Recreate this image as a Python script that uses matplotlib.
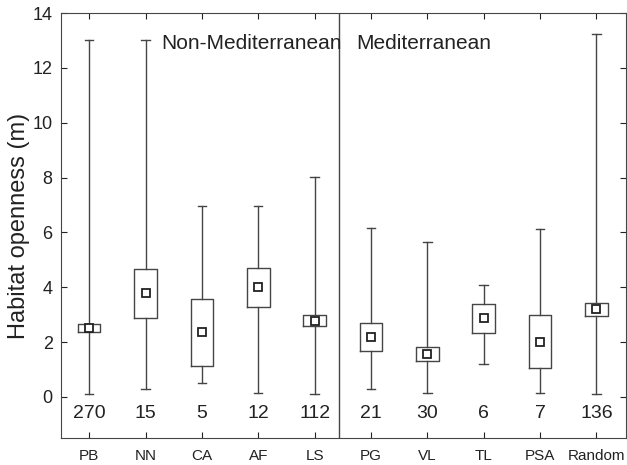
import matplotlib
matplotlib.use("Agg")
import matplotlib.pyplot as plt

plt.rcParams['font.family'] = ['Liberation Sans', 'DejaVu Sans']

categories = ["PB", "NN", "CA", "AF", "LS", "PG", "VL", "TL", "PSA", "Random"]
whisker_high = [13.0, 13.0, 6.98, 6.98, 8.02, 6.15, 5.64, 4.09, 6.11, 13.23]
whisker_low = [0.11, 0.30, 0.49, 0.13, 0.11, 0.30, 0.13, 1.19, 0.13, 0.11]
box_high = [2.65, 4.67, 3.58, 4.69, 2.98, 2.69, 1.83, 3.40, 2.98, 3.44]
box_low = [2.38, 2.89, 1.12, 3.27, 2.58, 1.67, 1.31, 2.33, 1.05, 2.96]
centers = [2.52, 3.78, 2.36, 3.99, 2.78, 2.18, 1.58, 2.87, 2.02, 3.21]
counts = ["270", "15", "5", "12", "112", "21", "30", "6", "7", "136"]

col = "#454545"
fig = plt.figure(figsize=(6.27, 4.65), dpi=100)
ax = fig.add_axes([0.0973, 0.058, 0.9007, 0.914])

stats = []
for i, c in enumerate(categories):
    stats.append(dict(label=c, whislo=whisker_low[i], q1=box_low[i], med=centers[i],
                      q3=box_high[i], whishi=whisker_high[i], mean=centers[i], fliers=[]))
pos = list(range(1, len(categories) + 1))
ax.bxp(stats, positions=pos, widths=0.4, showmeans=True, showfliers=False,
       boxprops=dict(color=col, linewidth=1.0),
       whiskerprops=dict(color=col, linewidth=1.0),
       capprops=dict(color=col, linewidth=1.0),
       medianprops=dict(linewidth=0),
       meanprops=dict(marker='s', markerfacecolor='white', markeredgecolor='#222222',
                      markersize=6, markeredgewidth=1.3),
       capwidths=0.15)

for p, n in zip(pos, counts):
    ax.text(p, -0.62, n, ha='center', va='center', fontsize=14, color='#222222')

ax.axvline(5.43, color=col, linewidth=1.0)
ax.text(2.27, 12.9, "Non-Mediterranean", ha='left', va='center', fontsize=15, color='#222222')
ax.text(5.73, 12.9, "Mediterranean", ha='left', va='center', fontsize=15, color='#222222')

ax.set_xlim(0.5, 10.52)
ax.set_ylim(-1.5, 14)
ax.set_xticks(pos)
ax.set_xticklabels(categories)
ax.set_yticks(range(0, 15, 2))
ax.tick_params(axis='both', direction='in', top=True, right=True, color=col, length=4)
ax.tick_params(axis='x', labelsize=11, pad=8, colors='#222222')
ax.tick_params(axis='y', labelsize=13, pad=6, colors='#222222')
for s in ax.spines.values():
    s.set_color(col)
ax.set_ylabel("Habitat openness (m)", fontsize=17, color='#222222', labelpad=2)
fig.savefig("out.png", dpi=100)
